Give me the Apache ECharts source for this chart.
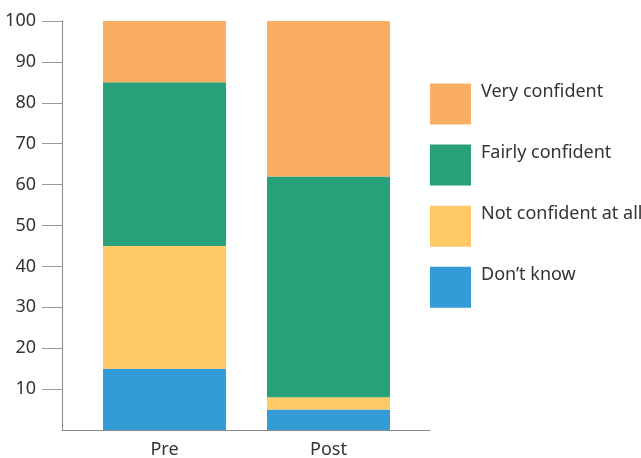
<!DOCTYPE html>
<html>
<head>
<meta charset="utf-8">
<script src="https://cdn.jsdelivr.net/npm/echarts@6/dist/echarts.min.js"></script>
<style>
  html, body { margin: 0; padding: 0; background: #fff; }
  #chart { width: 641px; height: 458px; }
</style>
</head>
<body>
<div id="chart"></div>
<script>
// Survey stages and response shares (%), stacked from the bottom up
const categories = ['Pre', 'Post'];
const dontKnow = [15, 5];
const notConfident = [30, 3];
const fairlyConfident = [40, 54];
const veryConfident = [15, 38];
const yTicks = [10, 20, 30, 40, 50, 60, 70, 80, 90, 100];

const seriesNames = ['Don\u2019t know', 'Not confident at all', 'Fairly confident', 'Very confident'];
const seriesValues = [dontKnow, notConfident, fairlyConfident, veryConfident];
const seriesColors = ['#339BD5', '#FFCA66', '#28A17A', '#F9AE61'];

const FONT = 'Noto Sans';
const chart = echarts.init(document.getElementById('chart'));

chart.setOption({
  animation: false,
  textStyle: { fontFamily: FONT },
  grid: [
    // frame grid: carries the value axis and the baseline
    { left: 62, top: 21, width: 368, height: 409, outerBoundsMode: 'none' },
    // bar grid: narrower so the two bars sit inside the frame
    { left: 82.5, top: 21, width: 328, height: 409, outerBoundsMode: 'none' }
  ],
  xAxis: [
    {
      gridIndex: 0, type: 'value', min: 0, max: 1,
      axisLine: { show: true, lineStyle: { color: '#8a8a8a', width: 1 } },
      axisTick: { show: false }, axisLabel: { show: false }, splitLine: { show: false }
    },
    {
      gridIndex: 1, type: 'category', data: categories,
      axisLine: { show: false }, axisTick: { show: false },
      axisLabel: { color: '#333', fontSize: 18, margin: 11, fontFamily: FONT }
    }
  ],
  yAxis: [
    {
      gridIndex: 0, type: 'value', min: 0, max: 100, interval: 10,
      axisLine: { show: true, lineStyle: { color: '#8a8a8a', width: 1 } },
      axisTick: { show: true, length: 20, customValues: yTicks, lineStyle: { color: '#9a9a9a' } },
      axisLabel: { color: '#333', fontSize: 18, margin: 26, customValues: yTicks, fontFamily: FONT },
      splitLine: { show: false }
    },
    {
      gridIndex: 1, type: 'value', min: 0, max: 100, show: false
    }
  ],
  legend: {
    left: 430, top: 83, orient: 'vertical', padding: 0,
    itemWidth: 41, itemHeight: 41, itemGap: 19.6,
    icon: 'rect',
    data: seriesNames.slice().reverse(),
    formatter: '{t|{name}}',
    textStyle: {
      color: '#333', fontSize: 18, fontFamily: FONT,
      rich: { t: { color: '#333', fontSize: 18, fontFamily: FONT, padding: [0, 0, 24, 5] } }
    }
  },
  series: seriesNames.map((name, i) => ({
    name: name,
    type: 'bar',
    stack: 'total',
    xAxisIndex: 1,
    yAxisIndex: 1,
    barWidth: 123,
    itemStyle: { color: seriesColors[i] },
    data: seriesValues[i]
  }))
});
</script>
</body>
</html>
